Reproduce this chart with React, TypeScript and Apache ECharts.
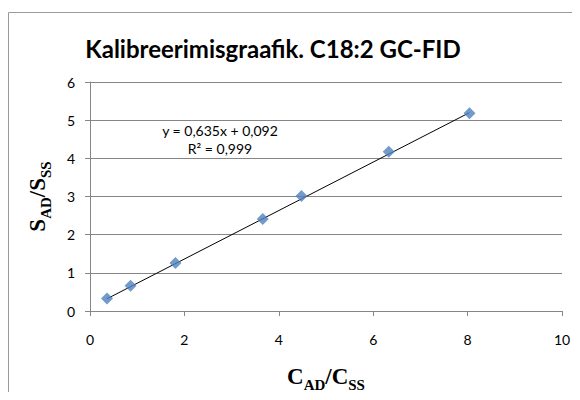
import React, { useEffect, useRef } from "react";
import * as echarts from "echarts";

const xValues = [0.36, 0.86, 1.81, 3.66, 4.48, 6.33, 8.04];
const yValues = [0.33, 0.66, 1.26, 2.41, 3.01, 4.17, 5.18];
const slope = 0.635;
const intercept = 0.092;
const equationLines = ["y = 0,635x + 0,092", "R² = 0,999"];
const titleText = "Kalibreerimisgraafik. C18:2 GC-FID";

export default function App() {
  const ref = useRef<HTMLDivElement>(null);
  useEffect(() => {
    if (!ref.current) return;
    const chart = echarts.init(ref.current, null, { renderer: "svg" });
    const points = xValues.map((x, i) => [x, yValues[i]]);
    const xmin = Math.min(...xValues);
    const xmax = Math.max(...xValues);
    const trend = [
      [xmin, slope * xmin + intercept],
      [xmax, slope * xmax + intercept],
    ];
    const gray = "#868686";
    const rich = {
      m: { fontFamily: "Liberation Serif", fontWeight: "bold", fontSize: 23, color: "#000", verticalAlign: "bottom", padding: [0, 0, 4, 0] },
      s: { fontFamily: "Liberation Serif", fontWeight: "bold", fontSize: 15, color: "#000", verticalAlign: "bottom" },
    };
    chart.setOption({
      animation: false,
      backgroundColor: "#fff",
      title: {
        text: titleText,
        left: 268,
        top: 31,
        textAlign: "center",
        textStyle: { fontFamily: "Lato", fontWeight: "bold", fontSize: 24, color: "#000" },
      },
      graphic: [
        {
          type: "rect",
          shape: { x: 8.5, y: 12.5, width: 600, height: 420 },
          style: { fill: "none", stroke: "#9a9a9a", lineWidth: 1 },
          silent: true,
        },
        {
          type: "text",
          x: 220,
          y: 139,
          style: {
            text: equationLines.join("\n"),
            font: "14px Lato",
            fill: "#000",
            align: "center",
            verticalAlign: "middle",
            lineHeight: 18,
          },
        },
      ],
      grid: { left: 90, top: 82, width: 472, height: 229, containLabel: false },
      xAxis: {
        type: "value",
        min: 0,
        max: 10,
        interval: 2,
        name: "{m|C}{s|AD}{m|/C}{s|SS}",
        nameLocation: "middle",
        nameGap: 54,
        nameTextStyle: { rich },
        axisLine: { show: true, lineStyle: { color: gray, width: 1 } },
        axisTick: { show: true, length: 5, lineStyle: { color: gray } },
        axisLabel: { fontFamily: "Lato", fontSize: 14, color: "#000", margin: 21 },
        splitLine: { show: false },
      },
      yAxis: {
        type: "value",
        min: 0,
        max: 6,
        interval: 1,
        name: "{m|S}{s|AD}{m|/S}{s|SS}",
        nameLocation: "middle",
        nameGap: 37,
        nameRotate: 90,
        nameTextStyle: { rich },
        axisLine: { show: true, lineStyle: { color: gray, width: 1 } },
        axisTick: { show: true, length: 5, lineStyle: { color: gray } },
        axisLabel: { fontFamily: "Lato", fontSize: 14, color: "#000", margin: 15 },
        splitLine: { show: true, lineStyle: { color: gray, width: 1 } },
      },
      series: [
        {
          type: "line",
          data: trend,
          symbol: "none",
          lineStyle: { color: "#000", width: 1 },
          z: 3,
          silent: true,
        },
        {
          type: "scatter",
          data: points,
          symbol: "diamond",
          symbolSize: 12,
          itemStyle: { color: "#4F81BD" },
          z: 4,
        },
      ],
    });
    return () => chart.dispose();
  }, []);
  return <div ref={ref} style={{ width: 580, height: 400, margin: -8 }} />;
}
